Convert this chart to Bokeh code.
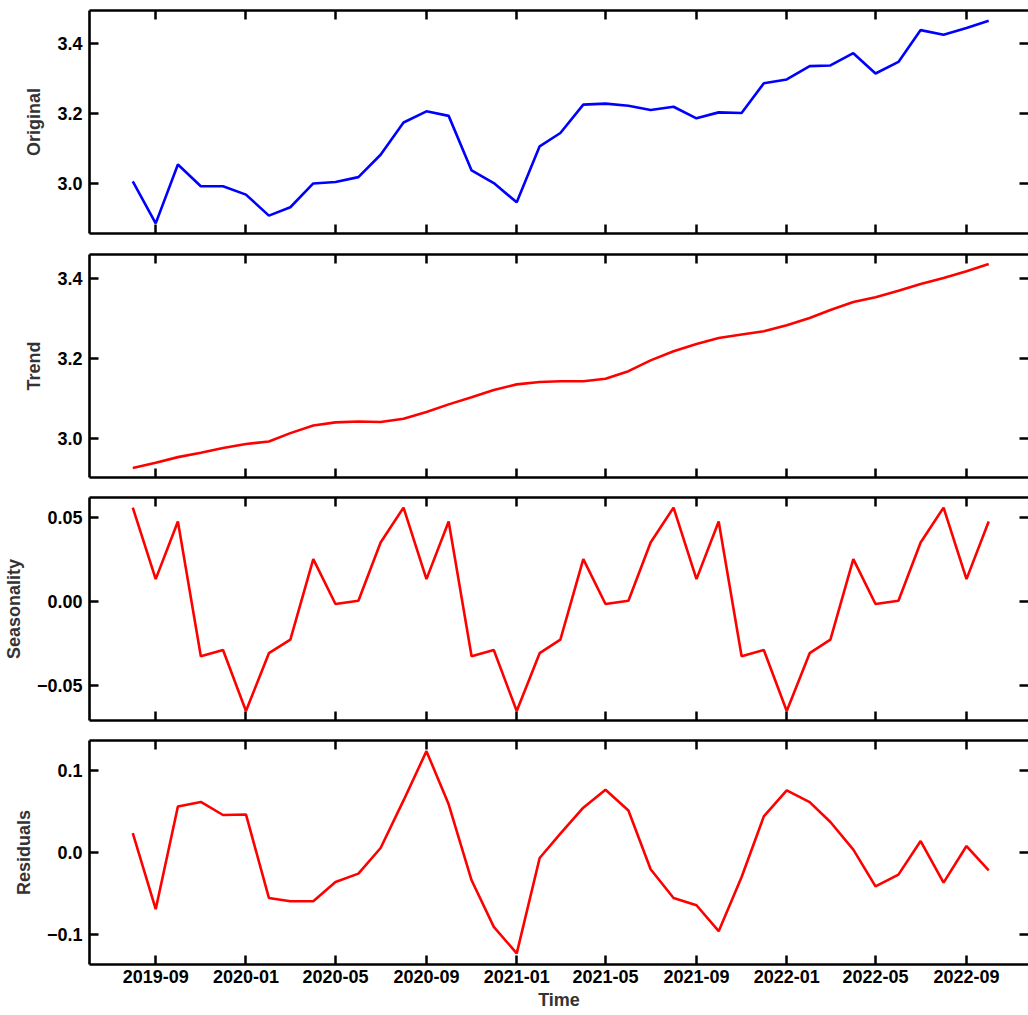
from datetime import timedelta
import pandas as pd
from bokeh.plotting import figure
from bokeh.layouts import column
from bokeh.models import (DatetimeAxis, LinearAxis, MonthsTicker, SingleIntervalTicker,
                          DatetimeTickFormatter, CustomJSTickFormatter, Range1d)
from bokeh.embed import file_html
from bokeh.resources import INLINE

# ---------------- data ----------------
dates = pd.date_range("2019-08-01", "2022-10-01", freq="MS")

original = [3.007, 2.887, 3.055, 2.993, 2.993, 2.969, 2.909, 2.933, 3.001, 3.005,
            3.019, 3.083, 3.175, 3.207, 3.194, 3.038, 3.002, 2.947, 3.107, 3.145,
            3.226, 3.229, 3.223, 3.211, 3.220, 3.187, 3.204, 3.202, 3.287, 3.298,
            3.336, 3.338, 3.373, 3.315, 3.348, 3.439, 3.426, 3.445, 3.466]

trend = [2.927, 2.940, 2.954, 2.965, 2.977, 2.987, 2.993, 3.014, 3.033, 3.041,
         3.043, 3.042, 3.050, 3.067, 3.086, 3.104, 3.122, 3.136, 3.142, 3.144,
         3.144, 3.150, 3.169, 3.196, 3.219, 3.237, 3.252, 3.261, 3.269, 3.284,
         3.302, 3.322, 3.342, 3.354, 3.370, 3.387, 3.402, 3.419, 3.437]

seasonality = [0.0559, 0.0134, 0.0476, -0.0324, -0.0287, -0.0650, -0.0306, -0.0225,
               0.0253, -0.0014, 0.0006, 0.0352,
               0.0559, 0.0134, 0.0476, -0.0324, -0.0287, -0.0650, -0.0306, -0.0225,
               0.0253, -0.0014, 0.0006, 0.0352,
               0.0559, 0.0134, 0.0476, -0.0324, -0.0287, -0.0650, -0.0306, -0.0225,
               0.0253, -0.0014, 0.0006, 0.0352,
               0.0559, 0.0134, 0.0476]

residuals = [0.024, -0.069, 0.0565, 0.062, 0.046, 0.0467, -0.0553, -0.0593, -0.0593,
             -0.0358, -0.0256, 0.0057, 0.0638, 0.124, 0.059, -0.0337, -0.0907, -0.123,
             -0.0065, 0.0232, 0.0549, 0.0768, 0.0516, -0.0203, -0.0553, -0.0642,
             -0.0959, -0.0297, 0.0443, 0.076, 0.0618, 0.0374, 0.0037, -0.0411,
             -0.0268, 0.0142, -0.0366, 0.0081, -0.0215]

panel_labels = ["Original", "Trend", "Seasonality", "Residuals"]
x_label = "Time"

# ---------------- styling ----------------
FONT = "Liberation Sans"
x_range = Range1d(dates[0] - timedelta(days=58.5), dates[-1] + timedelta(days=53.8))


def yfmt(decimals):
    return CustomJSTickFormatter(code=(
        "const v = Math.abs(tick) < 1e-9 ? 0 : tick;"
        f"return v.toFixed({decimals}).replace('-', '\\u2212');"))


def style_axis(ax, show_labels, standoff=7):
    ax.major_tick_in = 9
    ax.major_tick_out = 0
    ax.minor_tick_in = 0
    ax.minor_tick_out = 0
    ax.minor_tick_line_color = None
    ax.major_tick_line_width = 2.5
    ax.major_tick_line_color = "black"
    ax.axis_line_width = 2.6
    ax.axis_line_color = "black"
    ax.major_label_text_font = FONT
    ax.major_label_text_font_style = "bold"
    ax.major_label_text_line_height = 1.0
    if show_labels:
        ax.major_label_text_color = "black"
        ax.major_label_text_font_size = "18px"
        ax.major_label_standoff = standoff
    else:
        ax.formatter = CustomJSTickFormatter(code="return '';")
        ax.major_label_text_color = None
        ax.major_label_text_font_size = "0px"
        ax.major_label_standoff = 0


def style_label(ax, text, standoff):
    ax.axis_label = text
    ax.axis_label_text_font = FONT
    ax.axis_label_text_font_style = "bold"
    ax.axis_label_text_font_size = "18px"
    ax.axis_label_text_color = "#333333"
    ax.axis_label_text_line_height = 1.0
    ax.axis_label_standoff = standoff


def make_panel(label, values, color, y0, y1, interval, decimals,
               height, top, bottom, last=False):
    p = figure(width=1028, height=height, x_axis_type="datetime",
               output_backend="svg", toolbar_location=None,
               x_range=x_range, y_range=Range1d(y0, y1),
               min_border_left=89, min_border_right=0,
               min_border_top=top, min_border_bottom=bottom)
    p.line(dates, values, line_color=color, line_width=2.6)
    p.grid.visible = False
    p.outline_line_color = None
    p.background_fill_color = "white"
    p.border_fill_color = "white"

    p.add_layout(DatetimeAxis(), "above")
    p.add_layout(LinearAxis(), "right")

    xt = MonthsTicker(months=[0, 4, 8])
    yt = SingleIntervalTicker(interval=interval)

    below = p.below[0]
    below.ticker = xt
    below.formatter = DatetimeTickFormatter(months="%Y-%m", days="%Y-%m", years="%Y-%m")
    style_axis(below, last, standoff=5)
    above = p.above[0]
    above.ticker = xt
    style_axis(above, False)

    left = p.left[0]
    left.ticker = yt
    left.formatter = yfmt(decimals)
    style_axis(left, True, standoff=7)
    style_label(left, label, 10)

    right = p.right[0]
    right.ticker = yt
    style_axis(right, False)
    right.axis_line_color = None

    if last:
        style_label(below, x_label, 4)
    return p


p1 = make_panel(panel_labels[0], original, "#0000ff", 2.858, 3.495, 0.2, 1, 243, 10, 10)
p2 = make_panel(panel_labels[1], trend, "#ff0000", 2.903, 3.461, 0.2, 1, 244, 11, 10)
p3 = make_panel(panel_labels[2], seasonality, "#ff0000", -0.0706, 0.0619, 0.05, 2, 243, 10, 10)
p4 = make_panel(panel_labels[3], residuals, "#ff0000", -0.1366, 0.137, 0.1, 1, 285, 10, 51, last=True)

layout = column(p1, p2, p3, p4, spacing=0)
open("out.html", "w").write(file_html(layout, INLINE))
